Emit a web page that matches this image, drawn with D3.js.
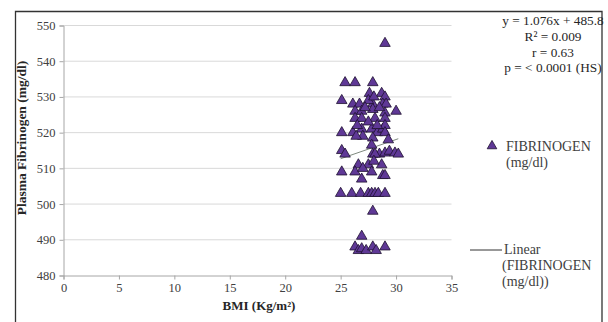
<!DOCTYPE html>
<html><head><meta charset="utf-8">
<script src="https://cdn.jsdelivr.net/npm/d3@7"></script>
<style>body{margin:0;background:#fff}svg{display:block}text{font-family:"Liberation Serif","Times New Roman",serif}</style>
</head><body>
<svg id="c" width="608" height="322"></svg>
<script>
const bmi = [29.0,25.4,26.3,27.9,27.6,28.7,29.0,25.1,26.1,26.7,27.9,28.8,29.1,26.3,26.9,27.9,29.0,30.0,26.3,26.9,28.1,29.0,25.1,26.1,26.9,27.8,28.3,28.8,29.0,29.0,27.0,27.9,26.4,25.1,25.4,27.8,27.9,28.5,29.0,29.4,29.9,30.2,28.1,26.6,27.5,28.7,28.0,25.1,26.3,27.0,27.8,26.9,28.8,29.0,25.0,26.0,26.8,27.5,27.8,28.1,28.4,29.0,27.9,26.9,26.3,26.6,26.9,27.3,27.9,28.2,29.0,27.5,28.0,27.2,28.5,28.3,27.5,26.5,29.3];
const fibrinogen = [545,534,534,534,531,531,530,529,528,528,528,528,528,526,526,526.5,525.5,526,524,524,524,524,520,520,521,521,520,521,522,520,519,518.5,519,515,514,516.5,514,514,514.3,514.8,514.3,514,514,511,511,511,512,509,509,510,509,507,508,508,503,503,503,503,503,503,503,503,498,491,488,487,487.5,487,488,487,488,529,530,527,527,522,523,522,518];
const xTicks = [0,5,10,15,20,25,30,35];
const yTicks = [480,490,500,510,520,530,540,550];
const slope = 1.076, intercept = 485.8;
const statLines = ["y = 1.076x + 485.8","R\u00b2 = 0.009","r = 0.63","p = < 0.0001 (HS)"];

const svg = d3.select("#c");
const x = d3.scaleLinear().domain([0,35]).range([63.5,451.5]);
const y = d3.scaleLinear().domain([480,550]).range([275.5,25.5]);

// border
svg.append("path").attr("d","M15.5,322 V11.5 H602 V322").attr("fill","none").attr("stroke","#333").attr("stroke-width",1.3);

// gridlines
svg.append("g").selectAll("line").data(yTicks.slice(1)).join("line")
  .attr("x1",x(0)).attr("x2",x(35)).attr("y1",d=>y(d)).attr("y2",d=>y(d))
  .attr("stroke","#d9d9d9").attr("stroke-width",1);

// axes
const ax = svg.append("g").attr("transform",`translate(0,${y(480)})`)
  .call(d3.axisBottom(x).tickValues(xTicks).tickSize(4).tickPadding(4));
const ay = svg.append("g").attr("transform",`translate(${x(0)},0)`)
  .call(d3.axisLeft(y).tickValues(yTicks).tickSize(4).tickPadding(4));
[ax,ay].forEach(g=>{
  g.select(".domain").attr("stroke","#a6a6a6");
  g.selectAll(".tick line").attr("stroke","#a6a6a6");
  g.selectAll(".tick text").attr("fill","#404040").style("font-size","12.5px").style("font-family","Liberation Serif, serif");
});

// trendline
const xMin = d3.min(bmi), xMax = d3.max(bmi);
svg.append("line").attr("x1",x(xMin)).attr("x2",x(xMax))
  .attr("y1",y(slope*xMin+intercept)).attr("y2",y(slope*xMax+intercept))
  .attr("stroke","#7f8a7f").attr("stroke-width",1);

// points
const sym = d3.symbol(d3.symbolTriangle).size(48);
svg.append("g").selectAll("path").data(bmi.map((b,i)=>[b,fibrinogen[i]])).join("path")
  .attr("d",sym).attr("transform",d=>`translate(${x(d[0])},${y(d[1])})`)
  .attr("fill","#5f3896").attr("stroke","#1e1030").attr("stroke-width",0.8);

// axis titles
svg.append("text").attr("x",259).attr("y",310).attr("text-anchor","middle")
  .style("font-weight","bold").style("font-size","13px").attr("fill","#262626")
  .text("BMI (Kg/m\u00b2)");
svg.append("text").attr("transform","translate(26,138) rotate(-90)").attr("text-anchor","middle")
  .style("font-weight","bold").style("font-size","13.5px").attr("fill","#262626")
  .text("Plasma Fibrinogen (mg/dl)");

// stats
svg.append("g").selectAll("text").data(statLines).join("text")
  .attr("x",553).attr("y",(d,i)=>25+i*15.8).attr("text-anchor","middle")
  .style("font-size","13.3px").attr("fill","#262626").text(d=>d);

// legend
svg.append("path").attr("d",d3.symbol(d3.symbolTriangle).size(40)).attr("transform","translate(492,146)")
  .attr("fill","#5f3896").attr("stroke","#1e1030").attr("stroke-width",0.8);
const leg1 = ["FIBRINOGEN","(mg/dl)"];
svg.append("g").selectAll("text").data(leg1).join("text")
  .attr("x",506).attr("y",(d,i)=>151+i*16).style("font-size","14px").attr("fill","#404040").text(d=>d);
svg.append("line").attr("x1",470).attr("x2",502).attr("y1",250).attr("y2",250).attr("stroke","#333").attr("stroke-width",1);
const leg2 = ["Linear","(FIBRINOGEN","(mg/dl))"];
svg.append("g").selectAll("text").data(leg2).join("text")
  .attr("x",(d,i)=>i===0?504:502).attr("y",(d,i)=>254+i*16).style("font-size","14px").attr("fill","#404040").text(d=>d);
</script>
</body></html>
